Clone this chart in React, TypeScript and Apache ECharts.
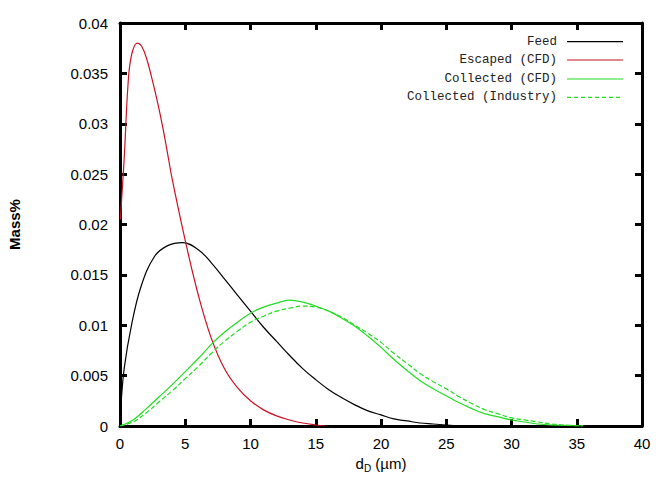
import React, { useEffect, useRef } from "react";
import * as echarts from "echarts";

const xTicks = { min: 0, max: 40, interval: 5 };
const yTicks = { min: 0, max: 0.04, interval: 0.005 };

const feedData: [number, number][] = [
  [0, 0], [0.1, 0.0026], [0.34, 0.0059], [0.85, 0.0098], [1.6, 0.0138], [2.63, 0.0168],
  [3.65, 0.0179], [4.8, 0.0182], [6, 0.0175], [7, 0.0162], [8, 0.0146], [9, 0.013], [10, 0.0114],
  [11, 0.0098], [12, 0.0084], [13, 0.007], [14, 0.0057], [15, 0.0046], [16, 0.0036], [17, 0.0028],
  [18, 0.0021], [19, 0.0015], [20, 0.0011], [21, 0.0007], [22, 0.0005], [23, 0.0003], [24, 0.0002],
  [25, 0.0001], [26, 0],
];

const escapedData: [number, number][] = [
  [0.03, 0.0205], [0.15, 0.023], [0.34, 0.027], [0.6, 0.0336], [0.85, 0.0366], [1.31, 0.038],
  [1.7, 0.0376], [2.1, 0.0362], [2.5, 0.0342], [2.9, 0.032], [3.3, 0.0295], [3.65, 0.027],
  [4, 0.0245], [5, 0.0184], [6, 0.013], [7, 0.0087], [8, 0.0057], [9, 0.0038], [10, 0.0025],
  [11, 0.0016], [12, 0.001], [13, 0.0006], [14, 0.0003], [15, 0.0001], [15.7, 0],
];

const collectedCfdData: [number, number][] = [
  [0, 0], [1, 0.0006], [2, 0.0017], [3, 0.0029], [4, 0.0041], [5, 0.0054], [6, 0.0067],
  [7, 0.0081], [8, 0.0093], [9, 0.0103], [10, 0.0112], [11, 0.0118], [12, 0.0122], [13, 0.0125],
  [14, 0.0123], [15, 0.0119], [16, 0.0114], [17, 0.0107], [18, 0.0099], [19, 0.0089], [20, 0.0078],
  [21, 0.0066], [22, 0.0055], [23, 0.0045], [24, 0.0037], [25, 0.003], [26, 0.0023], [27, 0.0017],
  [28, 0.0012], [29, 0.0009], [30, 0.0006], [31, 0.0004], [32, 0.0002], [33, 0.0001], [35.5, 0],
];

const collectedIndustryData: [number, number][] = [
  [0, 0], [1, 0.0004], [2, 0.0013], [3, 0.0024], [4, 0.0035], [5, 0.0047], [6, 0.0059],
  [7, 0.0072], [8, 0.0084], [9, 0.0094], [10, 0.0103], [11, 0.0109], [12, 0.0114], [13, 0.0117],
  [14, 0.0119], [15, 0.0118], [16, 0.0114], [17, 0.0108], [18, 0.01], [19, 0.0092], [20, 0.0083],
  [21, 0.0072], [22, 0.0062], [23, 0.0052], [24, 0.0044], [25, 0.0037], [26, 0.0029], [27, 0.0022],
  [28, 0.0016], [29, 0.0012], [30, 0.0008], [31, 0.0006], [32, 0.0004], [33, 0.0002], [34, 0.0001],
  [35.5, 0],
];

const seriesNames = ["Feed", "Escaped (CFD)", "Collected (CFD)", "Collected (Industry)"];
const seriesColors = ["#000000", "#cc1022", "#22dd22", "#22dd22"];
const seriesData = [feedData, escapedData, collectedCfdData, collectedIndustryData];
const seriesDash = ["solid", "solid", "solid", "dashed"];

export default function App() {
  const ref = useRef<HTMLDivElement>(null);
  useEffect(() => {
    if (!ref.current) return;
    const chart = echarts.init(ref.current, undefined, { renderer: "svg" });
    const axisLine = { show: true, onZero: false, lineStyle: { color: "#000", width: 3 } };
    const tick = { show: true, inside: true, length: 7, lineStyle: { color: "#000", width: 3 } };
    const labelFont = { fontFamily: "Liberation Sans, Arial, sans-serif", fontSize: 15, color: "#000" };
    const legendRows = [41.7, 60, 79, 97.3];
    const legendGraphics: any[] = [];
    seriesNames.forEach((n, i) => {
      legendGraphics.push({
        type: "text",
        x: 557,
        y: legendRows[i],
        style: {
          text: n,
          align: "right",
          verticalAlign: "middle",
          fontFamily: "Liberation Mono, monospace",
          fontSize: 12.5,
          fill: "#222",
        },
      });
      legendGraphics.push({
        type: "line",
        shape: { x1: 567, y1: legendRows[i], x2: 623, y2: legendRows[i] },
        style: {
          stroke: seriesColors[i],
          lineWidth: 1.2,
          lineDash: seriesDash[i] === "dashed" ? [4, 3] : null,
        },
      });
    });
    const option: any = {
      animation: false,
      backgroundColor: "#fff",
      grid: { left: 120, right: 17, top: 23, bottom: 58, containLabel: false, outerBoundsMode: "none" },
      graphic: legendGraphics,
      xAxis: [
        {
          type: "value",
          ...xTicks,
          axisLine,
          axisTick: tick,
          splitLine: { show: false },
          axisLabel: { ...labelFont, margin: 10 },
          name: "d{sub|D} (µm)",
          nameLocation: "middle",
          nameGap: 27,
          nameTextStyle: {
            ...labelFont,
            rich: {
              sub: { fontFamily: "Liberation Sans, Arial, sans-serif", fontSize: 10, color: "#000", verticalAlign: "bottom", padding: [10, 0, 0, 0] },
            },
          },
        },
        {
          type: "value",
          position: "top",
          ...xTicks,
          axisLine,
          axisTick: tick,
          splitLine: { show: false },
          axisLabel: { show: false },
        },
      ],
      yAxis: [
        {
          type: "value",
          ...yTicks,
          axisLine,
          axisTick: tick,
          splitLine: { show: false },
          axisLabel: { ...labelFont, margin: 12 },
          name: "Mass%",
          nameLocation: "middle",
          nameGap: 98,
          nameTextStyle: { ...labelFont, fontWeight: "bold" },
        },
        {
          type: "value",
          position: "right",
          ...yTicks,
          axisLine,
          axisTick: tick,
          splitLine: { show: false },
          axisLabel: { show: false },
        },
      ],
      series: seriesNames.map((n, i) => ({
        name: n,
        type: "line",
        data: seriesData[i],
        smooth: 0.4,
        showSymbol: false,
        symbol: "none",
        lineStyle: { color: seriesColors[i], width: 1.2, type: seriesDash[i] },
        itemStyle: { color: seriesColors[i] },
        z: 2 + i,
      })),
    };
    chart.setOption(option);
    return () => chart.dispose();
  }, []);
  return <div ref={ref} style={{ width: 659, height: 484, position: "absolute", left: 0, top: 0, background: "#fff" }} />;
}
